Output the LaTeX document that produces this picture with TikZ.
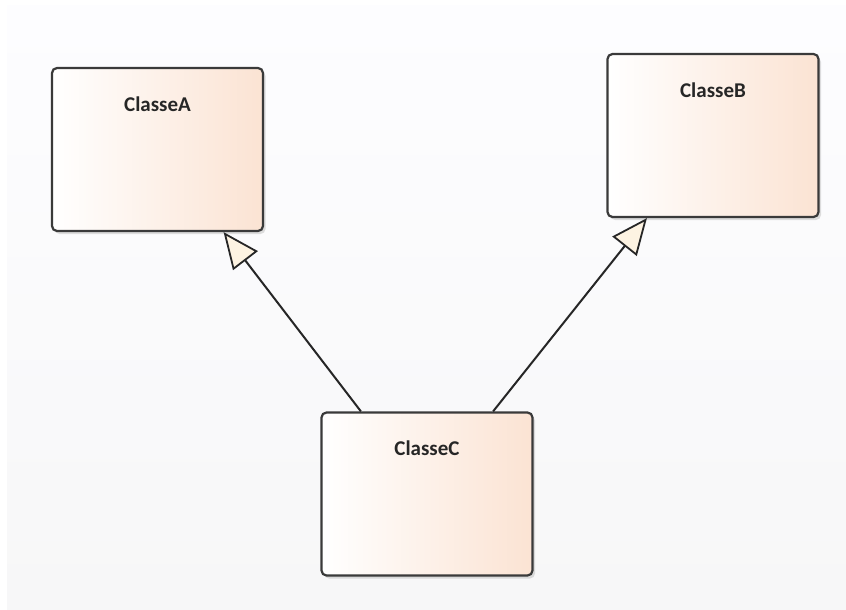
\documentclass[tikz,border=0pt]{standalone}
\usepackage{fontspec}
\setmainfont{Carlito}
\usetikzlibrary{arrows.meta,calc,shadows}

\definecolor{peach}{HTML}{FBE3D3}
\definecolor{cream}{HTML}{FDF3E2}
\definecolor{edge}{HTML}{3A3A3A}

\begin{document}
\begin{tikzpicture}[x=1pt,y=-1pt,
    classbox/.style={draw=edge, line width=2.2pt, rounded corners=5pt,
        left color=white, right color=peach, inner sep=0pt,
        minimum width=211pt, minimum height=163pt,
        drop shadow={shadow xshift=2.5pt, shadow yshift=-3pt, opacity=0.25}},
    classname/.style={font=\bfseries\fontsize{21}{24}\selectfont, text=black!85},
    inherits/.style={line width=2pt, draw=black!85,
        -{Triangle[fill=cream, length=36pt, width=31pt, line width=1.8pt]}}]

% canvas
\fill[white] (0,0) rectangle (846,610);
\shade[top color=white!60!blue!2, bottom color=blue!4!gray!6] (7,6) rectangle (846,610);

\node[classbox] (A) at (157.5,149.5) {};
\node[classbox] (B) at (713,135.5) {};
\node[classbox] (C) at (427,494) {};

\foreach \n in {A,B,C}
    \node[classname] (t\n) at ($(\n.north)+(0,37)$) {Classe\n};

\coordinate (cA) at ($(C.north west)!0.19!(C.north east)$);
\coordinate (cB) at ($(C.north west)!0.81!(C.north east)$);
\coordinate (pA) at ($(A.south west)!0.81!(A.south east)$);
\coordinate (pB) at ($(B.south west)!0.19!(B.south east)$);

\draw[inherits] (cA) -- (pA);
\draw[inherits] (cB) -- (pB);

\end{tikzpicture}
\end{document}
